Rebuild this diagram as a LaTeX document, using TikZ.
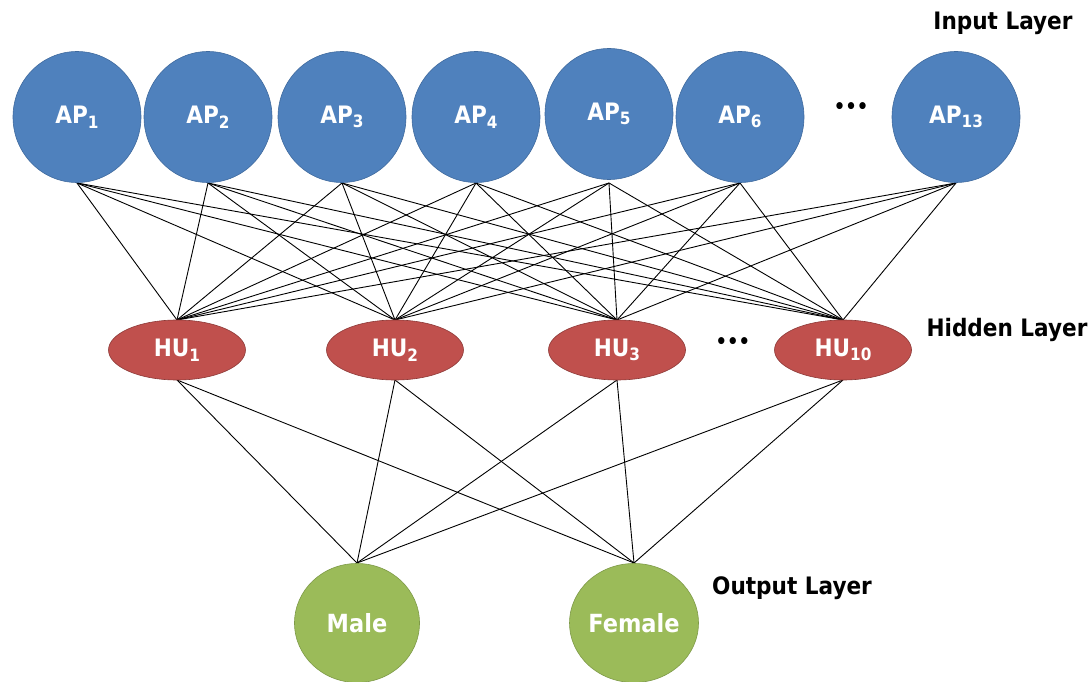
\documentclass[tikz,border=0pt]{standalone}
\usepackage{fontspec}
\setmainfont{DejaVu Sans Condensed}
\usetikzlibrary{shapes.geometric}
\definecolor{apblue}{HTML}{4F81BD}
\definecolor{apblueb}{HTML}{3F6A9E}
\definecolor{hured}{HTML}{C0504D}
\definecolor{huredb}{HTML}{8C3836}
\definecolor{outgreen}{HTML}{9BBB59}
\definecolor{outgreenb}{HTML}{7E9A48}
\newcommand\lowidx[1]{\raisebox{-0.35ex}{\fontsize{17}{17}\selectfont #1}}
\tikzset{
  innode/.style={ellipse, fill=apblue, draw=apblueb, line width=0.6pt, minimum width=128pt, minimum height=131pt, inner sep=0pt, text=white, font=\bfseries\fontsize{24}{24}\selectfont},
  hunode/.style={ellipse, fill=hured, draw=huredb, line width=0.6pt, minimum width=137pt, minimum height=60pt, inner sep=0pt, text=white, font=\bfseries\fontsize{24}{24}\selectfont},
  outnode/.style={ellipse, fill=outgreen, draw=outgreenb, line width=0.6pt, minimum width=125pt, minimum height=119pt, inner sep=0pt, text=white, font=\bfseries\fontsize{25}{25}\selectfont},
  layerlabel/.style={font=\bfseries\fontsize{24}{24}\selectfont, text=black},
  dotslabel/.style={font=\bfseries\fontsize{20}{20}\selectfont, text=black, inner sep=0pt},
  conn/.style={draw=black, line width=0.9pt}
}
\begin{document}
\begin{tikzpicture}[x=1pt,y=-1pt]
\useasboundingbox (0,0) rectangle (1088,682);
% edges first
\coordinate (a1) at (77,183);
\coordinate (a2) at (208,183);
\coordinate (a3) at (342,183);
\coordinate (a4) at (476,183);
\coordinate (a5) at (609,183);
\coordinate (a6) at (740,183);
\coordinate (a13) at (956,183);
\coordinate (h1t) at (177,320);
\coordinate (h2t) at (395,320);
\coordinate (h3t) at (617,320);
\coordinate (h10t) at (843,320);
\coordinate (h1b) at (177,380);
\coordinate (h2b) at (395,380);
\coordinate (h3b) at (617,380);
\coordinate (h10b) at (843,380);
\coordinate (mt) at (357,563);
\coordinate (ft) at (634,563);
\foreach \a in {a1,a2,a3,a4,a5,a6,a13}{
  \foreach \h in {h1t,h2t,h3t,h10t}{
    \draw[conn] (\a) -- (\h);
  }
}
\foreach \h in {h1b,h2b,h3b,h10b}{
  \foreach \o in {mt,ft}{
    \draw[conn] (\h) -- (\o);
  }
}
% input layer
\node[innode] (ap1) at (77,117) {AP\lowidx{1}};
\node[innode] (ap2) at (208,117) {AP\lowidx{2}};
\node[innode] (ap3) at (342,117) {AP\lowidx{3}};
\node[innode] (ap4) at (476,117) {AP\lowidx{4}};
\node[innode] (ap5) at (609,114) {AP\lowidx{5}};
\node[innode] (ap6) at (740,117) {AP\lowidx{6}};
\node[innode] (ap13) at (956,117) {AP\lowidx{13}};
\node[dotslabel] (dots1) at (851,108) {•••};
% hidden layer
\node[hunode] (hu1) at (177,350) {HU\lowidx{1}};
\node[hunode] (hu2) at (395,350) {HU\lowidx{2}};
\node[hunode] (hu3) at (617,350) {HU\lowidx{3}};
\node[hunode] (hu10) at (843,350) {HU\lowidx{10}};
\node[dotslabel] (dots2) at (733,343) {•••};
% output layer
\node[outnode] (male) at (357,623) {Male};
\node[outnode] (female) at (634,623) {Female};
% labels
\node[layerlabel] (linput) at (1003,23) {Input Layer};
\node[layerlabel] (lhidden) at (1007,330) {Hidden Layer};
\node[layerlabel] (loutput) at (792,588) {Output Layer};
\end{tikzpicture}
\end{document}
